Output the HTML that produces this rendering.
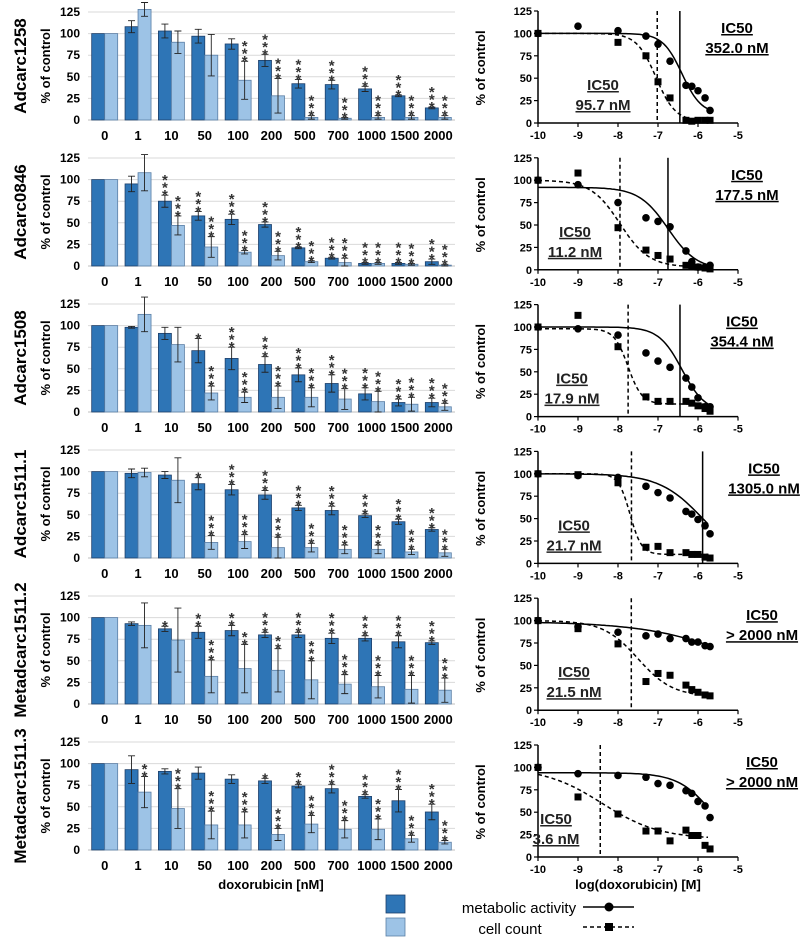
<!DOCTYPE html>
<html><head><meta charset="utf-8"><style>
html,body{margin:0;padding:0;background:#fff;}
svg{display:block;font-family:"Liberation Sans",Arial,sans-serif;}
</style></head><body>
<svg id="fig" width="800" height="939" viewBox="0 0 800 939" xmlns="http://www.w3.org/2000/svg"></svg>
<script>
const doses = ["0","1","10","50","100","200","500","700","1000","1500","2000"];
const doseNum = [0,1,10,50,100,200,500,700,1000,1500,2000];
const lineNames = ["Adcarc1258","Adcarc0846","Adcarc1508","Adcarc1511.1","Metadcarc1511.2","Metadcarc1511.3"];
const yTicks = [0,25,50,75,100,125];
const xLogTicks = [-10,-9,-8,-7,-6,-5];
const metabolicValues = [
 [100,108,103,97,88,69,42,41,36,28,14],
 [100,95,75,58,54,48,21,9,3,3,5],
 [100,98,91,71,62,55,43,33,21,11,11],
 [100,98,96,86,79,73,58,55,49,42,33],
 [100,93,87,83,85,80,80,76,76,72,71],
 [100,93,91,89,82,80,74,71,62,57,44]];
const metabolicErrors = [
 [0,7,8,8,6,7,5,5,3,1,1],
 [0,9,7,5,6,3,1,1,1,1,3],
 [0,1,7,14,13,9,8,10,7,4,5],
 [0,5,4,7,6,5,3,5,2,3,2],
 [0,2,3,7,6,3,3,6,3,7,2],
 [0,16,3,7,5,3,2,5,2,13,9]];
const cellValues = [
 [100,128,90,75,46,28,3,2,3,3,3],
 [100,108,47,22,16,12,5,4,3,2,1],
 [100,113,78,22,17,17,17,15,12,9,6],
 [100,99,90,18,19,12,12,10,10,7,6],
 [100,91,74,32,41,39,28,23,20,17,16],
 [100,67,48,29,29,18,30,24,24,13,9]];
const cellErrors = [
 [0,8,13,24,22,20,2,1,2,2,2],
 [0,21,11,12,2,5,1,5,1,1,1],
 [0,20,20,8,6,13,11,12,12,8,4],
 [0,5,26,8,8,12,5,5,5,3,4],
 [0,26,37,19,28,25,22,11,13,16,14],
 [0,18,23,16,15,7,10,10,12,4,2]];
const metabolicStars = [
 [0,0,0,0,0,3,3,3,3,3,3],
 [0,0,3,3,3,3,3,3,3,3,3],
 [0,0,0,1,3,3,3,3,3,3,3],
 [0,0,0,1,3,3,3,3,3,3,3],
 [0,0,1,2,2,3,3,3,3,3,3],
 [0,0,0,0,0,1,2,3,3,3,3]];
const cellStars = [
 [0,0,0,0,3,3,3,3,3,3,3],
 [0,0,3,3,3,3,3,3,3,3,3],
 [0,0,0,3,3,3,3,3,3,3,3],
 [0,0,0,3,3,3,3,3,3,3,3],
 [0,0,0,3,2,2,3,3,3,3,3],
 [0,2,3,3,3,3,3,3,3,3,3]];
const metabolicIC50Label = ["352.0 nM","177.5 nM","354.4 nM","1305.0 nM","> 2000 nM","> 2000 nM"];
const cellIC50Label = ["95.7 nM","11.2 nM","17.9 nM","21.7 nM","21.5 nM","3.6 nM"];
const metabolicIC50nM = [352.0,177.5,354.4,1305.0,null,null];
const cellIC50nM = [95.7,11.2,17.9,21.7,21.5,3.6];
// Hill fit parameters [top, bottom, logIC, hill]
const metabolicFit = [[100,10,-6.4,1.8],[92,0,-6.75,1.2],[100,5,-6.4,1.5],[100,0,-5.88,0.8],[99,0,-4.5,0.35],[94,0,-5.6,1]];
const cellFit = [[100,2,-7.05,1.8],[100,3,-7.95,1.2],[98,14,-7.75,2.5],[100,10,-7.7,3],[100,15,-7.5,1],[100,20,-8.4,0.6]];

const NS="http://www.w3.org/2000/svg";
const svg=document.getElementById('fig');
function mk(tag,attrs,parent,text){const e=document.createElementNS(NS,tag);for(const k in attrs)e.setAttribute(k,attrs[k]);if(text!==undefined)e.textContent=text;(parent||svg).appendChild(e);return e;}
const PERIOD=146, RPERIOD=146.8;
const BX0=88,BX1=455,BAND=(BX1-BX0)/doses.length,BW=13;
const DARK="#2e75b6",DARKS="#1d3f6a",LIGHT="#9dc3e6",LIGHTS="#5b7fa6";
const RX0=538,RX1=738;
function logX(v){return RX0+(v-(-10))*(RX1-RX0)/5;}
function hill(p,x){return p[1]+(p[0]-p[1])/(1+Math.pow(10,(x-p[2])*p[3]));}
function doseLog(d){return d===0?-10:Math.log10(d*1e-9);}

for(let r=0;r<6;r++){
  const off=r*PERIOD, roff=r*RPERIOD;
  const g=mk('g',{});
  
  
  const by=v=>120+off-v*(108/125);
  const rl=mk('text',{x:0,y:0,transform:`translate(26,${66+off}) rotate(-90)`,'text-anchor':'middle','font-size':17,'font-weight':'bold'},g,lineNames[r]);
  
  
  const yl=mk('text',{x:0,y:0,transform:`translate(50,${66+off}) rotate(-90)`,'text-anchor':'middle','font-size':13,'font-weight':'bold'},g,'% of control');
  
  
  yTicks.forEach(t=>{
    const gl=mk('line',{x1:BX0,x2:BX1,y1:by(t),y2:by(t),stroke:t===0?'#bfbfbf':'#d9d9d9','stroke-width':1},g);
    
    
    const tl=mk('text',{x:80,y:by(t)+4,'text-anchor':'end','font-size':12,'font-weight':'bold'},g,String(t));
    
    
  });
  doses.forEach((d,i)=>{
    const c=BX0+BAND*(i+0.5);
    const cl=mk('text',{x:c,y:140+off,'text-anchor':'middle','font-size':13,'font-weight':'bold'},g,d);
    
    
    const series=[[metabolicValues[r][i],metabolicErrors[r][i],metabolicStars[r][i],c-BW,DARK,DARKS,'metabolic'],[cellValues[r][i],cellErrors[r][i],cellStars[r][i],c,LIGHT,LIGHTS,'cell']];
    series.forEach(s=>{
      const [v,e,st,x,fill,stroke,nm]=s;
      const b=mk('rect',{x:x,y:by(v),width:BW,height:by(0)-by(v),fill:fill,stroke:stroke,'stroke-width':0.8},g);
      
      
      const cx=x+BW/2;
      if(e>0){
        const eb=mk('path',{d:`M${cx},${by(v+e)}V${by(Math.max(0,v-e))}M${cx-3.5},${by(v+e)}H${cx+3.5}M${cx-3.5},${by(Math.max(0,v-e))}H${cx+3.5}`,stroke:'#222','stroke-width':0.9,fill:'none'},g);
        
        
      }
      for(let k=0;k<st;k++){
        const sy=by(v+e)-2-k*7.5;
        const s2=mk('text',{x:cx,y:sy+7,'text-anchor':'middle','font-size':15,'font-weight':'bold',fill:'#333'},g,'*');
        
        
      }
    });
  });
  const ry=v=>123+roff-v*(112/125);
  const ryl=mk('text',{x:0,y:0,transform:`translate(485,${68+roff}) rotate(-90)`,'text-anchor':'middle','font-size':13,'font-weight':'bold'},g,'% of control');
  
  
  const ax=mk('path',{d:`M${RX0},${ry(125)}V${ry(0)}H${RX1}`,stroke:'#000','stroke-width':1.5,fill:'none'},g);
  
  
  yTicks.forEach(t=>{
    const tk=mk('line',{x1:RX0-4,x2:RX0,y1:ry(t),y2:ry(t),stroke:'#000','stroke-width':1.2},g);
    
    
    const tl=mk('text',{x:RX0-6,y:ry(t)+4,'text-anchor':'end','font-size':11,'font-weight':'bold'},g,String(t));
    
    
  });
  xLogTicks.forEach(t=>{
    const tk=mk('line',{x1:logX(t),x2:logX(t),y1:ry(0),y2:ry(0)+4,stroke:'#000','stroke-width':1.2},g);
    
    
    const tl=mk('text',{x:logX(t),y:ry(0)+16,'text-anchor':'middle','font-size':11,'font-weight':'bold'},g,String(t));
    
    
  });
  if(metabolicIC50nM[r]!==null){
    const lx=logX(Math.log10(metabolicIC50nM[r]*1e-9));
    const l=mk('line',{x1:lx,x2:lx,y1:ry(125),y2:ry(0),stroke:'#000','stroke-width':1.5},g);
    
    
  }
  {
    const lx=logX(Math.log10(cellIC50nM[r]*1e-9));
    const l=mk('line',{x1:lx,x2:lx,y1:ry(125),y2:ry(0),stroke:'#000','stroke-width':1.5,'stroke-dasharray':'4,3'},g);
    
    
  }
  [[metabolicFit[r],'',"metabolic"],[cellFit[r],'4,3',"cell"]].forEach(f=>{
    let d='';
    for(let x=-10;x<=-5.7001;x+=0.05){d+=(d?'L':'M')+logX(x).toFixed(1)+','+ry(hill(f[0],x)).toFixed(1);}
    const p=mk('path',{d:d,stroke:'#000','stroke-width':1.5,fill:'none'},g);
    if(f[1])p.setAttribute('stroke-dasharray',f[1]);
    
    
  });
  doseNum.forEach((d,i)=>{
    const x=logX(doseLog(d));
    if(cellValues[r][i]<=125){
      const sq=mk('rect',{x:x-3.5,y:ry(cellValues[r][i])-3.5,width:7,height:7,fill:'#000'},g);
      
      
    }
    if(metabolicValues[r][i]<=125){
      const ci=mk('circle',{cx:x,cy:ry(metabolicValues[r][i]),r:3.8,fill:'#000'},g);
      
      
    }
  });
  const mx=[737,747,742,764,762,762][r];
  const t1=mk('text',{x:mx,y:33+roff,'text-anchor':'middle','font-size':15,'font-weight':'bold','text-decoration':'underline'},g,'IC50');
  
  
  const t2=mk('text',{x:mx,y:53+roff,'text-anchor':'middle','font-size':15,'font-weight':'bold','text-decoration':'underline'},g,metabolicIC50Label[r]);
  
  
  const cx=[603,575,572,574,574,556][r];
  const t3=mk('text',{x:cx,y:90+roff,'text-anchor':'middle','font-size':15,'font-weight':'bold','text-decoration':'underline',fill:'#222'},g,'IC50');
  
  
  const t4=mk('text',{x:cx,y:110+roff,'text-anchor':'middle','font-size':15,'font-weight':'bold','text-decoration':'underline',fill:'#222'},g,cellIC50Label[r]);
  
  
}
const xt1=mk('text',{x:271,y:889,'text-anchor':'middle','font-size':13,'font-weight':'bold'},svg,'doxorubicin [nM]');


const xt2=mk('text',{x:638,y:889,'text-anchor':'middle','font-size':13,'font-weight':'bold'},svg,'log(doxorubicin) [M]');


const lg=mk('g',{});


const lb1=mk('rect',{x:386,y:895,width:19,height:18,fill:DARK,stroke:DARKS,'stroke-width':0.8},lg);


const lb2=mk('rect',{x:386,y:918,width:19,height:18,fill:LIGHT,stroke:LIGHTS,'stroke-width':0.8},lg);


const lt1=mk('text',{x:519,y:913,'text-anchor':'middle','font-size':15},lg,'metabolic activity');


const lt2=mk('text',{x:510,y:934,'text-anchor':'middle','font-size':15},lg,'cell count');


const ll1=mk('line',{x1:583,x2:634,y1:907,y2:907,stroke:'#000','stroke-width':1.6},lg);


const lc=mk('circle',{cx:609,cy:907,r:4.5,fill:'#000'},lg);


const ll2=mk('line',{x1:583,x2:634,y1:927,y2:927,stroke:'#000','stroke-width':1.6,'stroke-dasharray':'4,3'},lg);


const ls=mk('rect',{x:605,y:923,width:8,height:8,fill:'#000'},lg);


</script>
</body></html>
